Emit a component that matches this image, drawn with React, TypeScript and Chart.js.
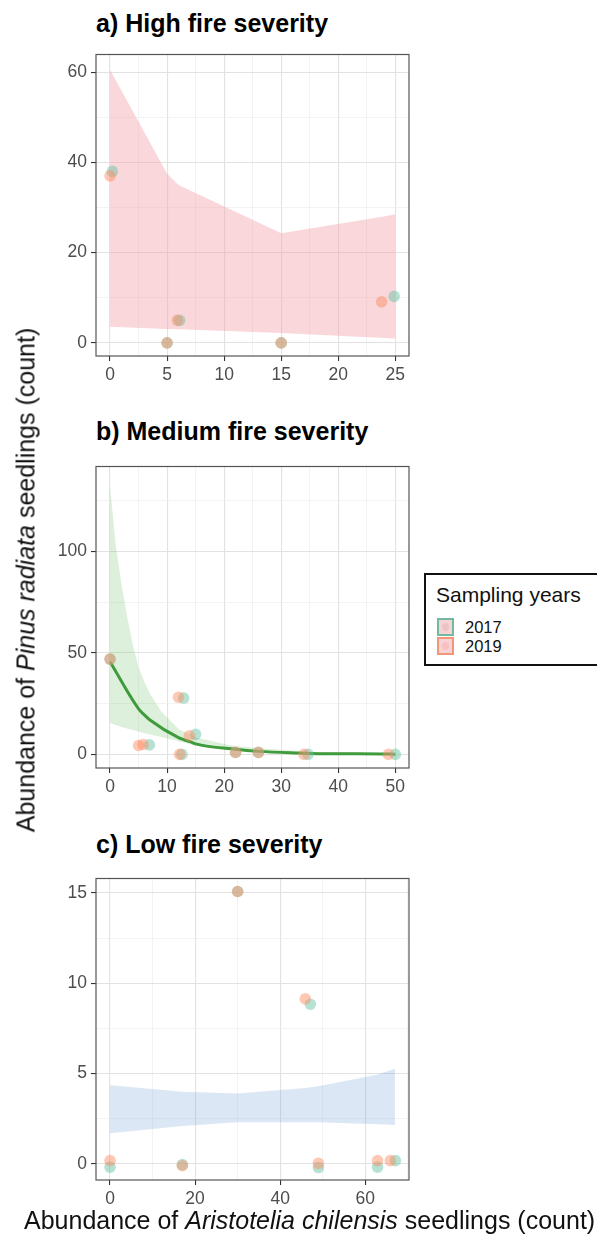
import React, { useEffect, useRef } from 'react';
import { Chart, registerables } from 'chart.js';

Chart.register(...registerables);

const FONT = "'Liberation Sans', Arial, Helvetica, sans-serif";

// ---------- Panel a) High fire severity ----------
const aX2017 = [0.2, 6.1, 5, 15, 24.9];
const aY2017 = [38, 5, 0, 0, 10.3];
const aX2019 = [0, 5.9, 5, 15, 23.8];
const aY2019 = [37, 5, 0, 0, 9.1];
const aBandX = [0, 5, 6, 15, 24, 25];
const aBandHi = [60.5, 37.5, 35, 24.3, 28, 28.5];
const aBandLo = [3.6, 3.1, 3.0, 2.2, 1.1, 1.0];
const aXTicks = [0, 2.5, 5, 7.5, 10, 12.5, 15, 17.5, 20, 22.5, 25];
const aXMajor = [0, 5, 10, 15, 20, 25];
const aYTicks = [0, 10, 20, 30, 40, 50, 60];
const aYMajor = [0, 20, 40, 60];

// ---------- Panel b) Medium fire severity ----------
const bX2017 = [0, 6.9, 12.9, 12.6, 15, 22, 26, 34.7, 50];
const bY2017 = [47, 4.7, 27.8, 0, 9.9, 1, 1, 0, 0];
const bX2019 = [0, 5, 5.8, 12, 12.2, 13.9, 22, 26, 34, 48.8];
const bY2019 = [47, 4.4, 4.9, 28.2, 0, 9.2, 1, 1, 0, 0];
const bLineX = [0, 5, 6, 7, 12, 13, 14, 15, 22, 26, 34, 35, 49, 50];
const bLineY = [45.7, 22.5, 19.5, 17, 8.3, 7.2, 6.3, 5.2, 2.5, 1.5, 0.6, 0.5, 0.15, 0.1];
const bBandX = [0, 1, 2, 3, 4, 5, 6, 7, 9, 12, 15, 21, 26, 35, 50];
const bBandHi = [132, 103, 84, 68, 54, 43, 36, 30, 21, 12.5, 8.5, 4.5, 3, 1.3, 0.5];
const bBandLo = [15.5, 14.5, 13.5, 12.8, 12, 11.3, 10.5, 9.8, 8.6, 6.5, 4.3, 2.2, 1.2, 0.3, 0.05];
const bXTicks = [0, 5, 10, 15, 20, 25, 30, 35, 40, 45, 50];
const bXMajor = [0, 10, 20, 30, 40, 50];
const bYTicks = [0, 25, 50, 75, 100, 125];
const bYMajor = [0, 50, 100];

// ---------- Panel c) Low fire severity ----------
const cX2017 = [0, 17, 30, 47.1, 49, 62.9, 67.1];
const cY2017 = [-0.18, -0.04, 15.08, 8.84, -0.2, -0.18, 0.18];
const cX2019 = [0, 17, 30, 45.9, 49, 62.9, 65.9];
const cY2019 = [0.18, -0.1, 15.08, 9.14, 0.03, 0.18, 0.18];
const cBandX = [0, 17, 30, 46, 49, 63, 67];
const cBandHi = [4.35, 4.0, 3.9, 4.2, 4.3, 4.95, 5.27];
const cBandLo = [1.7, 2.1, 2.3, 2.3, 2.3, 2.2, 2.15];
const cXTicks = [0, 10, 20, 30, 40, 50, 60, 70];
const cXMajor = [0, 20, 40, 60];
const cYTicks = [0, 2.5, 5, 7.5, 10, 12.5, 15];
const cYMajor = [0, 5, 10, 15];

const years = ['2017', '2019'];

const GREEN_PT = 'rgba(102,194,165,0.48)';
const ORANGE_PT = 'rgba(252,141,98,0.48)';

const pts = (xs: number[], ys: number[]) => xs.map((x, i) => ({ x, y: ys[i] }));

const boxPlugin = {
  id: 'panelBox',
  afterDraw(chart: any) {
    const { ctx, chartArea } = chart;
    ctx.save();
    ctx.strokeStyle = '#555555';
    ctx.lineWidth = 1.2;
    ctx.strokeRect(chartArea.left, chartArea.top, chartArea.right - chartArea.left, chartArea.bottom - chartArea.top);
    ctx.restore();
  },
};

const W = 420;
const H = 346;

type PanelProps = {
  top: number;
  x17: number[]; y17: number[]; x19: number[]; y19: number[];
  bandX: number[]; bandHi: number[]; bandLo: number[]; bandColor: string;
  lineX?: number[]; lineY?: number[]; lineColor?: string;
  xMin: number; xMax: number; yMin: number; yMax: number;
  xTicks: number[]; xMajor: number[]; yTicks: number[]; yMajor: number[];
};

function Panel(p: PanelProps) {
  const ref = useRef<HTMLCanvasElement>(null);
  useEffect(() => {
    const datasets: any[] = [
      {
        label: years[1], data: pts(p.x19, p.y19), showLine: false,
        pointRadius: 5.8, pointBackgroundColor: ORANGE_PT, pointBorderWidth: 0, order: 0,
      },
      {
        label: years[0], data: pts(p.x17, p.y17), showLine: false,
        pointRadius: 5.8, pointBackgroundColor: GREEN_PT, pointBorderWidth: 0, order: 1,
      },
    ];
    if (p.lineX && p.lineY) {
      datasets.push({
        label: 'fit', data: pts(p.lineX, p.lineY), borderColor: p.lineColor, borderWidth: 3,
        pointRadius: 0, fill: false, cubicInterpolationMode: 'monotone', order: 2,
      });
    }
    datasets.push({
      label: 'hi', data: pts(p.bandX, p.bandHi), borderWidth: 0, borderColor: 'rgba(0,0,0,0)',
      pointRadius: 0, fill: '+1', backgroundColor: p.bandColor, order: 3,
    });
    datasets.push({
      label: 'lo', data: pts(p.bandX, p.bandLo), borderWidth: 0, borderColor: 'rgba(0,0,0,0)',
      pointRadius: 0, fill: false, order: 4,
    });

    const axis = (min: number, max: number, ticks: number[], major: number[], isX: boolean) => ({
      type: 'linear',
      min, max,
      afterBuildTicks: (s: any) => { s.ticks = ticks.map((v) => ({ value: v })); },
      afterFit: (s: any) => { if (isX) s.height = 30; else s.width = 96; },
      border: { display: false },
      grid: {
        color: (c: any) => (major.includes(c.tick?.value) ? '#e2e2e2' : '#eeeeee'),
        lineWidth: (c: any) => (major.includes(c.tick?.value) ? 1.1 : 0.7),
        tickColor: (c: any) => (major.includes(c.tick?.value) ? '#333333' : 'rgba(0,0,0,0)'),
        tickLength: 5,
        tickWidth: 1.1,
        drawTicks: true,
      },
      ticks: {
        autoSkip: false,
        maxRotation: 0,
        padding: 4,
        color: '#4d4d4d',
        font: { size: 17.5, family: FONT },
        callback: (v: any) => (major.includes(Number(v)) ? String(v) : ''),
      },
    });

    const chart = new Chart(ref.current as HTMLCanvasElement, {
      type: 'line',
      data: { datasets },
      options: {
        animation: false,
        responsive: false,
        events: [],
        parsing: true,
        layout: { padding: { left: 0, right: W - 409, top: 4, bottom: 0 } },
        plugins: { legend: { display: false }, tooltip: { enabled: false }, title: { display: false } },
        scales: {
          x: axis(p.xMin, p.xMax, p.xTicks, p.xMajor, true),
          y: axis(p.yMin, p.yMax, p.yTicks, p.yMajor, false),
        },
      } as any,
      plugins: [boxPlugin],
    } as any);
    return () => chart.destroy();
  }, []);
  return (
    <canvas
      ref={ref}
      width={W}
      height={H}
      style={{ position: 'absolute', left: 0, top: p.top, width: W, height: H }}
    />
  );
}

const titleStyle: React.CSSProperties = {
  position: 'absolute', left: 96, fontFamily: FONT, fontWeight: 'bold', fontSize: 25,
  lineHeight: 1, whiteSpace: 'nowrap', color: '#000',
};

export default function App() {
  return (
    <div style={{ position: 'absolute', left: 0, top: 0, width: 597, height: 1235, overflow: 'hidden', background: '#fff', fontFamily: FONT }}>
      <div style={{ ...titleStyle, top: 11 }}>a) High fire severity</div>
      <div style={{ ...titleStyle, top: 419 }}>b) Medium fire severity</div>
      <div style={{ ...titleStyle, top: 832 }}>c) Low fire severity</div>

      <Panel top={40} x17={aX2017} y17={aY2017} x19={aX2019} y19={aY2019}
        bandX={aBandX} bandHi={aBandHi} bandLo={aBandLo} bandColor="rgba(242,160,170,0.42)"
        xMin={-1.23} xMax={26.2} yMin={-2.9} yMax={63.9}
        xTicks={aXTicks} xMajor={aXMajor} yTicks={aYTicks} yMajor={aYMajor} />
      <Panel top={452} x17={bX2017} y17={bY2017} x19={bX2019} y19={bY2019}
        bandX={bBandX} bandHi={bBandHi} bandLo={bBandLo} bandColor="rgba(120,195,110,0.25)"
        lineX={bLineX} lineY={bLineY} lineColor="#3f9b3c"
        xMin={-2.46} xMax={52.4} yMin={-6.7} yMax={142}
        xTicks={bXTicks} xMajor={bXMajor} yTicks={bYTicks} yMajor={bYMajor} />
      <Panel top={864} x17={cX2017} y17={cY2017} x19={cX2019} y19={cY2019}
        bandX={cBandX} bandHi={cBandHi} bandLo={cBandLo} bandColor="rgba(110,160,210,0.25)"
        xMin={-3.3} xMax={70.3} yMin={-0.89} yMax={15.8}
        xTicks={cXTicks} xMajor={cXMajor} yTicks={cYTicks} yMajor={cYMajor} />

      <div style={{
        position: 'absolute', left: 26, top: 580, transform: 'translate(-50%, -50%) rotate(-90deg)',
        fontSize: 25, lineHeight: 1, whiteSpace: 'nowrap', color: '#111',
      }}>
        Abundance of <i>Pinus radiata</i> seedlings (count)
      </div>

      <div style={{
        position: 'absolute', left: 24, top: 1208, fontSize: 25, lineHeight: 1, whiteSpace: 'nowrap', color: '#111',
      }}>
        Abundance of <i>Aristotelia chilensis</i> seedlings (count)
      </div>

      <div style={{
        position: 'absolute', left: 424, top: 573, width: 190, height: 93, boxSizing: 'border-box',
        border: '2px solid #111', background: '#fff',
      }}>
        <div style={{ position: 'absolute', left: 10, top: 9, fontSize: 21, lineHeight: 1, whiteSpace: 'nowrap', color: '#111' }}>Sampling years</div>
        {years.map((yr, i) => (
          <React.Fragment key={yr}>
            <div style={{
              position: 'absolute', left: 11, top: 43 + i * 18.5, width: 17, height: 18, boxSizing: 'border-box',
              border: `2px solid ${i === 0 ? 'rgba(90,180,150,0.85)' : 'rgba(240,140,105,0.85)'}`,
              background: '#f7d3d6',
            }}>
              <div style={{
                position: 'absolute', left: 3, top: 3, width: 7, height: 8, borderRadius: '50%',
                background: i === 0 ? 'rgba(225,185,185,0.6)' : 'rgba(250,180,175,0.6)',
              }} />
            </div>
            <div style={{ position: 'absolute', left: 39, top: 44 + i * 18.5, fontSize: 16.5, lineHeight: 1, whiteSpace: 'nowrap', color: '#111' }}>{yr}</div>
          </React.Fragment>
        ))}
      </div>
    </div>
  );
}
